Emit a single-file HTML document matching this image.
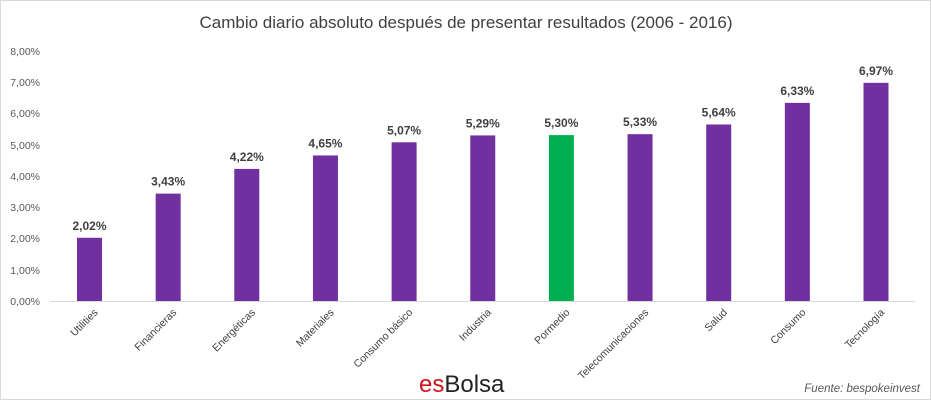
<!DOCTYPE html>
<html><head><meta charset="utf-8"><style>
body{margin:0;background:#fff}
svg{display:block;font-family:"Liberation Sans",sans-serif}
</style></head><body>
<svg width="931" height="400" viewBox="0 0 931 400">
<rect x="0.5" y="0.5" width="930" height="399" fill="#fff" stroke="#d9d9d9"/>
<text x="466" y="28" text-anchor="middle" font-size="17" fill="#404040">Cambio diario absoluto después de presentar resultados (2006 - 2016)</text>
<g font-size="10.5" fill="#595959" text-anchor="end">
<text x="40" y="305">0,00%</text><text x="40" y="274">1,00%</text><text x="40" y="242">2,00%</text><text x="40" y="211">3,00%</text><text x="40" y="180">4,00%</text><text x="40" y="149">5,00%</text><text x="40" y="117">6,00%</text><text x="40" y="86">7,00%</text><text x="40" y="55">8,00%</text>
</g>
<line x1="50" y1="301.5" x2="915" y2="301.5" stroke="#d9d9d9"/>
<g id="bars"></g>
<text x="419" y="392" font-size="24" fill="#d0141c">es<tspan fill="#222">Bolsa</tspan></text>
<text x="920" y="392" text-anchor="end" font-size="11.5" font-style="italic" fill="#595959">Fuente:  bespokeinvest</text>
</svg>
<script>
var d=[["Utilities",2.02],["Financieras",3.43],["Energéticas",4.22],["Materiales",4.65],["Consumo básico",5.07],["Industria",5.29],["Pormedio",5.30],["Telecomunicaciones",5.33],["Salud",5.64],["Consumo",6.33],["Tecnología",6.97]];
var g=document.getElementById('bars'),s='';
d.forEach(function(e,i){var cx=89.5+i*78.65,h=e[1]*31.3,y=301-h;
s+='<rect x="'+(cx-12.5)+'" y="'+y+'" width="25" height="'+h+'" fill="'+(i==6?'#00b050':'#7030a0')+'"/>';
s+='<text x="'+cx+'" y="'+(y-8)+'" text-anchor="middle" font-size="12" font-weight="bold" fill="#404040">'+e[1].toFixed(2).replace('.',',')+'%</text>';
s+='<text transform="translate('+(cx+9)+',313) rotate(-45)" text-anchor="end" font-size="10.5" fill="#404040">'+e[0]+'</text>';});
g.innerHTML=s;
</script>
</body></html>
